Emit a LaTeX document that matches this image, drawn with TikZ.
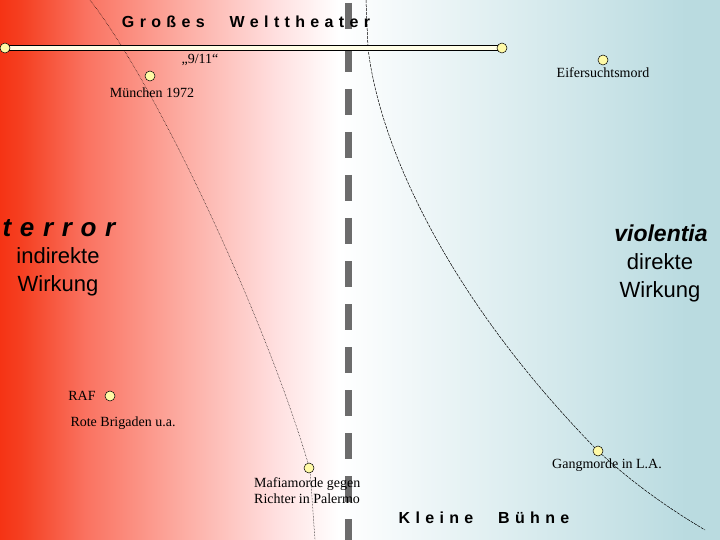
\documentclass[tikz,border=0pt]{standalone}
\usepackage{fontspec}
\setmainfont{Liberation Serif}
\setsansfont{Liberation Sans}
\pgfdeclarehorizontalshading{bgshade}{100bp}{rgb(0bp)=(0.96,0.2,0.08); rgb(25bp)=(0.96,0.2,0.08); rgb(26.5bp)=(0.96,0.25,0.13); rgb(31bp)=(0.98,0.45,0.38); rgb(37.5bp)=(0.99,0.67,0.63); rgb(44bp)=(1,0.87,0.87); rgb(48.5bp)=(1,1,1); rgb(72.5bp)=(0.73,0.86,0.88); rgb(100bp)=(0.73,0.86,0.88)}
\begin{document}
\begin{tikzpicture}[x=1pt,y=-1pt,
  dot/.style={circle,draw=black,fill=yellow!35,minimum size=10pt,inner sep=0pt,line width=0.5pt},
  lbl/.style={font=\rmfamily\fontsize{14}{16}\selectfont,inner sep=0pt},
  big/.style={font=\sffamily\fontsize{22}{28}\selectfont,inner sep=0pt,align=center},
  title/.style={font=\sffamily\bfseries\fontsize{16}{19}\selectfont,inner sep=0pt}]
\useasboundingbox (0,0) rectangle (720,540);
\shade[shading=bgshade] (0,0) rectangle (720,540);
% dashed divider
\draw[gray!85!black,line width=7pt,dash pattern=on 26pt off 17pt] (348,3) -- (348,540);
% curves
\draw[densely dotted,line width=0.5pt] (90,0) .. controls (160,90) and (270,330) .. (310,470) -- (315,540);
\draw[line width=0.5pt,dash pattern=on 3pt off 1pt] (366,0) -- (368,48) .. controls (380,150) and (450,300) .. (598,451) .. controls (640,490) and (680,515) .. (705,530);
% bar
\draw[line width=6pt] (5,48) -- (502,48);
\draw[line width=4pt,yellow!10] (5,48) -- (502,48);
\node[dot] (b1) at (5,48) {};
\node[dot] (b2) at (502,48) {};
\node[title] (t1) at (246,22) {G\,\,r\,\,o\,\,ß\,\,e\,\,s\quad\ \ W\,\,e\,\,l\,\,t\,\,t\,\,h\,\,e\,\,a\,\,t\,\,e\,\,r};
\node[lbl] (n911) at (200,60) {„9/11“};
\node[dot] (m) at (150,76) {};
\node[lbl] (mt) at (152,93) {München 1972};
\node[dot] (e) at (603,60) {};
\node[lbl] (et) at (603,73) {Eifersuchtsmord};
\node[font=\sffamily\bfseries\itshape\fontsize{26}{30}\selectfont,inner sep=0pt] (ter) at (59,228) {t\,\,e\,\,r\,\,r\,\,o\,\,r};
\node[big] (iw) at (58,272) {indirekte\\Wirkung};
\node[font=\sffamily\bfseries\itshape\fontsize{23}{27}\selectfont,inner sep=0pt] (vi) at (661,233) {violentia};
\node[big] (dw) at (660,278) {direkte\\Wirkung};
\node[lbl] (raf) at (82,396) {RAF};
\node[dot] (rd) at (110,396) {};
\node[lbl] (rb) at (123,423) {Rote Brigaden u.a.};
\node[dot] (md) at (309,468) {};
\node[lbl,align=left,anchor=west] (mt2) at (254,491) {Mafiamorde gegen\\Richter in Palermo};
\node[dot] (gd) at (598,451) {};
\node[lbl] (gt) at (607,465) {Gangmorde in L.A.};
\node[title] (kb) at (484,518) {K\,\,l\,\,e\,\,i\,\,n\,\,e\quad\ \ B\,\,ü\,\,h\,\,n\,\,e};
\end{tikzpicture}
\end{document}
